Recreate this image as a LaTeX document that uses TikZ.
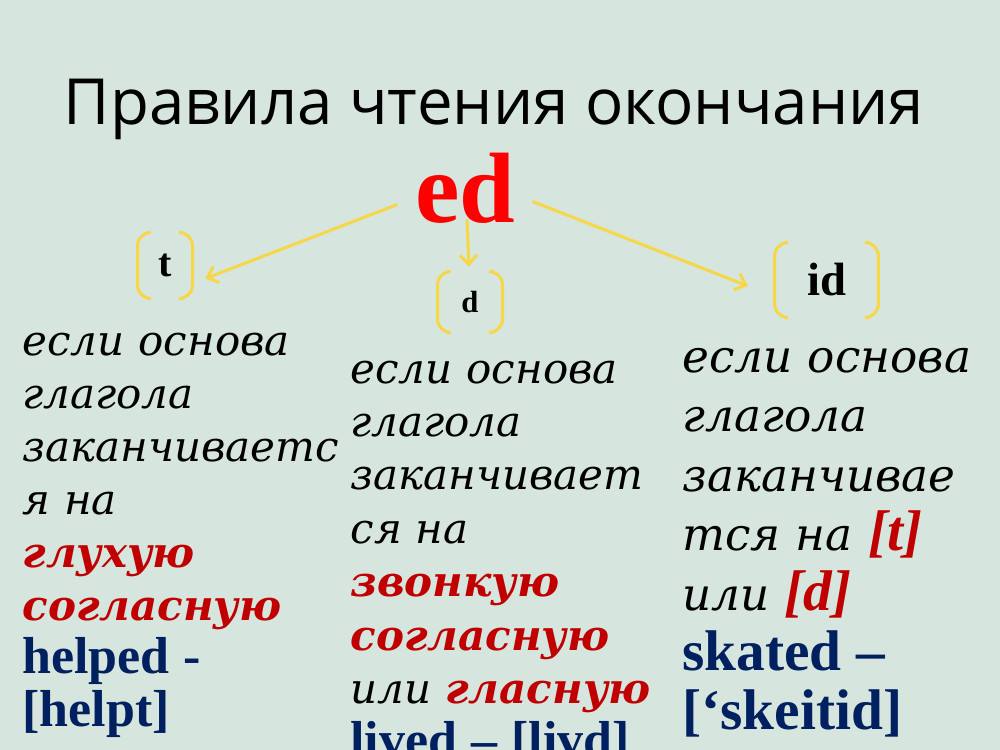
\documentclass[tikz,border=0pt]{standalone}
\usepackage{fontspec}
\setmainfont{DejaVu Serif}
\newfontfamily\timesfont{Liberation Serif}
\newfontfamily\titlefont{Open Sans}
\usetikzlibrary{arrows.meta,calc}

\definecolor{slidebg}{RGB}{214,229,221}
\definecolor{brkyellow}{RGB}{247,214,72}
\definecolor{edred}{RGB}{255,0,0}
\definecolor{rulered}{RGB}{192,0,0}
\definecolor{exblue}{RGB}{0,32,96}

\newcommand{\rdit}[1]{{\color{rulered}\bfseries #1}}
\newcommand{\rdt}[1]{{\color{rulered}\timesfont\bfseries\itshape\fontsize{43}{44.7}\selectfont #1}}
\newcommand{\ex}[1]{{\color{exblue}\timesfont\bfseries\upshape\fontsize{39}{39}\selectfont #1}}
\newcommand{\exr}[1]{{\color{exblue}\timesfont\bfseries\upshape\fontsize{43}{43}\selectfont #1}}
\newcommand{\bracketpair}[1]{%
  \draw [brkline] ($(#1.north west)+(10,0)$) -- (#1.north west) -- (#1.south west) -- ($(#1.south west)+(10,0)$) ;
  \draw [brkline] ($(#1.north east)+(-10,0)$) -- (#1.north east) -- (#1.south east) -- ($(#1.south east)+(-10,0)$) ;}

\tikzset{every picture/.style={line width=0.75pt}}
\tikzset{
  titletext/.style={anchor=base, inner sep=0pt, font=\titlefont\fontsize{47.7}{56}\selectfont},
  edtext/.style={anchor=base, inner sep=0pt, text=edred, font=\timesfont\bfseries\fontsize{75}{75}\selectfont},
  brk/.style={inner sep=0pt, font=\timesfont\bfseries},
  brkline/.style={draw=brkyellow, line width=2.25, rounded corners=10},
  yarrow/.style={draw=brkyellow, line width=2.25, -{Straight Barb[length=7pt,width=13pt]}},
  col/.style={anchor=base west, align=left, inner sep=0pt, text width=300pt,
    font=\itshape\fontsize{31.5}{39.75}\selectfont},
  colm/.style={col, font=\itshape\fontsize{31.5}{40.1}\selectfont},
  colr/.style={col, font=\itshape\fontsize{34}{44.7}\selectfont},
}

\begin{document}
\begin{tikzpicture}[x=0.75pt,y=0.75pt,yscale=-1,xscale=1]
	\useasboundingbox (0,0) rectangle (1000,750);
	\clip (0,0) rectangle (1000,750);
	%Shape: Rectangle
	\fill [slidebg] (0,0) rectangle (1000,750);
	
	%Title
	\node [titletext] (title) at (494,124) {Правила чтения окончания};
	\node [edtext] (ed) at (465,222) {ed};
	
	%Bracket Pairs
	\node [brk, minimum width=40.5pt, minimum height=48.75pt, font=\timesfont\bfseries\fontsize{30}{30}\selectfont] (tb) at (165,265.5) {t};
	\node [brk, minimum width=48pt, minimum height=45pt, font=\timesfont\bfseries\fontsize{23}{23}\selectfont] (db) at (470,302) {d};
	\node [brk, minimum width=77pt, minimum height=55.5pt, font=\timesfont\bfseries\fontsize{35}{35}\selectfont] (idb) at (826.5,280) {id};
	\bracketpair{tb}
	\bracketpair{db}
	\bracketpair{idb}
	
	%Straight Lines
	\draw [yarrow] ($(ed.south west)+(-17,-19)$) -- ($(tb.east)+(13,13)$) ;
	%Straight Lines
	\draw [yarrow] ($(ed.south)+(2,-4)$) -- ($(db.north)+(-1,-5)$) ;
	%Straight Lines
	\draw [yarrow] ($(ed.south east)+(17,-22)$) -- ($(idb.west)+(-27,6)$) ;
	
	%Text
	\node [col] (tcol) at (22,355) {если основа\\глагола\\заканчиваетс\\я на\\\rdit{глухую}\\\rdit{согласную}\\\ex{helped -}\\\ex{[helpt]}};
	\node [colm] (dcol) at (350,383) {если основа\\глагола\\заканчивает\\ся на\\\rdit{звонкую}\\\rdit{согласную}\\или \rdit{гласную}\\\ex{lived – [livd]}};
	\node [colr] (idcol) at (682,372) {если основа\\глагола\\заканчивае\\тся на \rdt{[t]}\\или \rdt{[d]}\\\exr{skated –}\\\exr{[‘skeitid]}};
	
\end{tikzpicture}
\end{document}
